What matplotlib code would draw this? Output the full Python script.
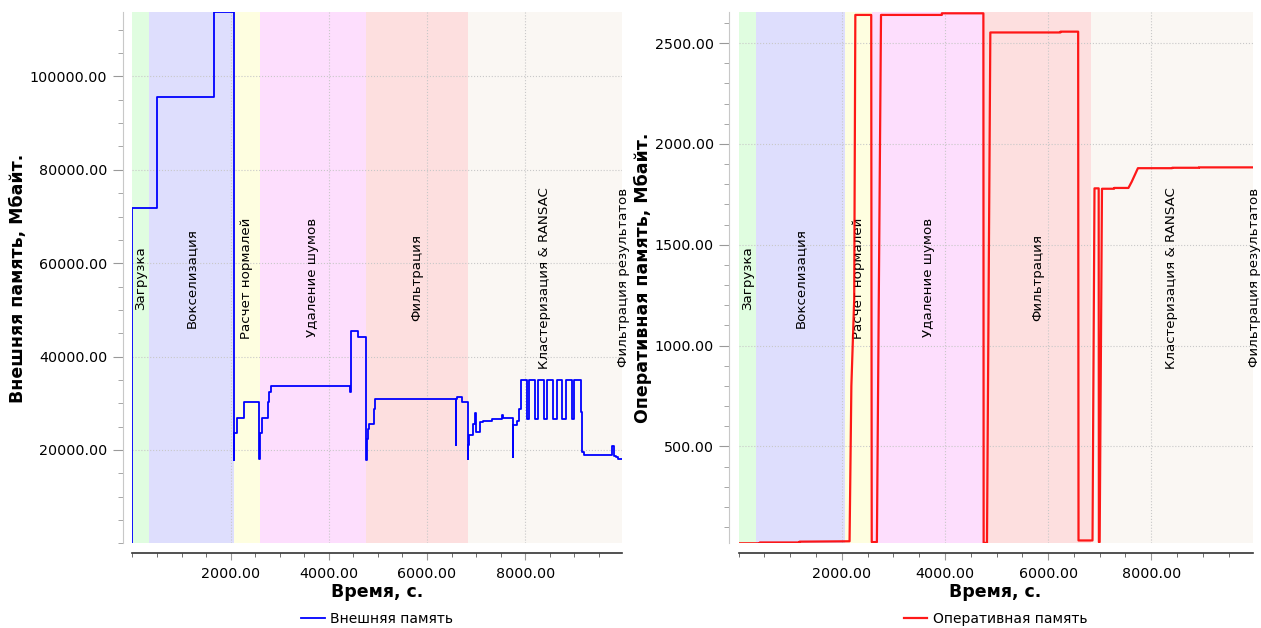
import numpy as np
import matplotlib
matplotlib.use('Agg')
import matplotlib.pyplot as plt
from matplotlib.ticker import MultipleLocator, FixedLocator, FormatStrFormatter

# phases of processing (seconds)
phase_names = ['Загрузка', 'Вокселизация', 'Расчет нормалей', 'Удаление шумов',
               'Фильтрация', 'Кластеризация & RANSAC', 'Фильтрация результатов']
phase_bounds = [0, 340, 2070, 2590, 4755, 6830, 9965, 10035]
phase_colors = ['#e0fde0', '#dedefd', '#fefee0', '#fddefd', '#fddfdf', '#faf7f3', '#faf7f3']

# external memory, Mbyte (step data)
disk_t = [0, 0, 495, 1660, 2067, 2076, 2124, 2137, 2273, 2572, 2595, 2640, 2769, 2790,
          2823, 4440, 4452, 4603, 4758, 4772, 4792, 4813, 4921, 4942, 6585, 6600, 6614,
          6722, 6828, 6840, 6863, 6945, 6979, 6995, 7081, 7148, 7318, 7525, 7540, 7746,
          7760, 7841, 7875, 7916, 8044, 8085, 8201, 8268, 8384, 8439, 8574, 8643, 8757,
          8826, 8949, 9001, 9132, 9162, 9199, 9776, 9800, 9845, 9886, 9965]
disk_mb = [0, 71800, 95700, 113700, 17900, 23570, 25850, 26920, 30270, 18000, 23570,
           26920, 30270, 32480, 33700, 32480, 45470, 44190, 17900, 22290, 24430, 25500,
           28710, 30920, 21070, 31000, 31410, 30210, 18000, 21070, 23210, 25500, 27850,
           23920, 26060, 26270, 26570, 27500, 26780, 18570, 25350, 26270, 28710, 34980,
           26570, 34980, 26570, 34980, 26570, 34980, 26570, 34980, 26570, 34980, 26570,
           34980, 28200, 19630, 18930, 20850, 18710, 18430, 18000, 18000]

# RAM, Mbyte
ram_t = [0, 410, 410, 1180, 1180, 2150, 2185, 2240, 2262, 2570, 2580, 2680, 2760, 3940,
         3940, 4745, 4750, 4815, 4880, 6240, 6240, 6583, 6590, 6861, 6900, 6981, 6985,
         7000, 7045, 7280, 7280, 7558, 7622, 7742, 8406, 8406, 8927, 8927, 9965]
ram_mb = [20, 20, 24, 24, 28, 30, 800, 1230, 2640, 2640, 26, 26, 2640, 2640, 2648, 2648,
          22, 22, 2553, 2553, 2557, 2557, 34, 34, 1780, 1780, 26, 26, 1778, 1778, 1782,
          1782, 1813, 1880, 1880, 1882, 1882, 1884, 1884]

fig = plt.figure(figsize=(12.61, 6.28), dpi=100)
ax1 = fig.add_axes([0.105, 0.1349, 0.388, 0.8452])
ax2 = fig.add_axes([0.5858, 0.1349, 0.4075, 0.8452])


def style_axis(ax, ymax, ymin, ymajor, yminor, ylabel, label_x):
    for i, name in enumerate(phase_names):
        ax.axvspan(phase_bounds[i], phase_bounds[i + 1], color=phase_colors[i], lw=0, zorder=0)
        mid = (phase_bounds[i] + phase_bounds[i + 1]) / 2
        ax.text(mid, 0.5, name, transform=ax.get_xaxis_transform(), rotation=90,
                ha='center', va='center', fontsize=9.6, clip_on=False, zorder=3)
    ax.set_xlim(0, 9965)
    ax.set_ylim(ymin, ymax)
    ax.xaxis.set_major_locator(FixedLocator([2000, 4000, 6000, 8000]))
    ax.xaxis.set_minor_locator(MultipleLocator(500))
    ax.yaxis.set_major_locator(FixedLocator(ymajor))
    ax.yaxis.set_minor_locator(MultipleLocator(yminor))
    ax.xaxis.set_major_formatter(FormatStrFormatter('%.2f'))
    ax.yaxis.set_major_formatter(FormatStrFormatter('%.2f'))
    ax.grid(True, which='major', ls=':', lw=0.8, color='#c8c8c8')
    for s in ['top', 'right']:
        ax.spines[s].set_visible(False)
    ax.spines['left'].set_position(('outward', 7))
    ax.spines['bottom'].set_position(('outward', 7.2))
    ax.spines['left'].set_color('#c8c8c8')
    ax.spines['bottom'].set_color('#333333')
    ax.spines['bottom'].set_linewidth(1.2)
    ax.tick_params(axis='y', which='major', length=7, color='#999999', labelsize=10.3, pad=4)
    ax.tick_params(axis='y', which='minor', length=3.5, color='#999999')
    ax.tick_params(axis='x', which='major', length=5, color='#999999', labelsize=10.3, pad=5)
    ax.tick_params(axis='x', which='minor', length=3, color='#555555')
    ax.set_xlabel('Время, с.', fontsize=12.5, fontweight='bold')
    ax.xaxis.set_label_coords(0.5, -0.075)
    ax.set_ylabel(ylabel, fontsize=12.5, fontweight='bold')
    ax.yaxis.set_label_coords(label_x, 0.5)


style_axis(ax1, 113700, 0, [20000, 40000, 60000, 80000, 100000], 5000,
           'Внешняя память, Мбайт.', -0.2154)
style_axis(ax2, 2652, 20, [500, 1000, 1500, 2000, 2500], 100,
           'Оперативная память, Мбайт.', -0.1687)

ax1.plot(disk_t, disk_mb, drawstyle='steps-post', color='#0000ff', lw=1.3,
         label='Внешняя память', zorder=4)
ax2.plot(ram_t, ram_mb, color='#ff0000', lw=1.6, alpha=0.9,
         label='Оперативная память', zorder=4)

for ax in (ax1, ax2):
    ax.legend(loc='center', bbox_to_anchor=(0.5, -0.1426), frameon=False, fontsize=10,
              handlelength=1.7, handletextpad=0.4)

fig.savefig('out.png', dpi=100)
